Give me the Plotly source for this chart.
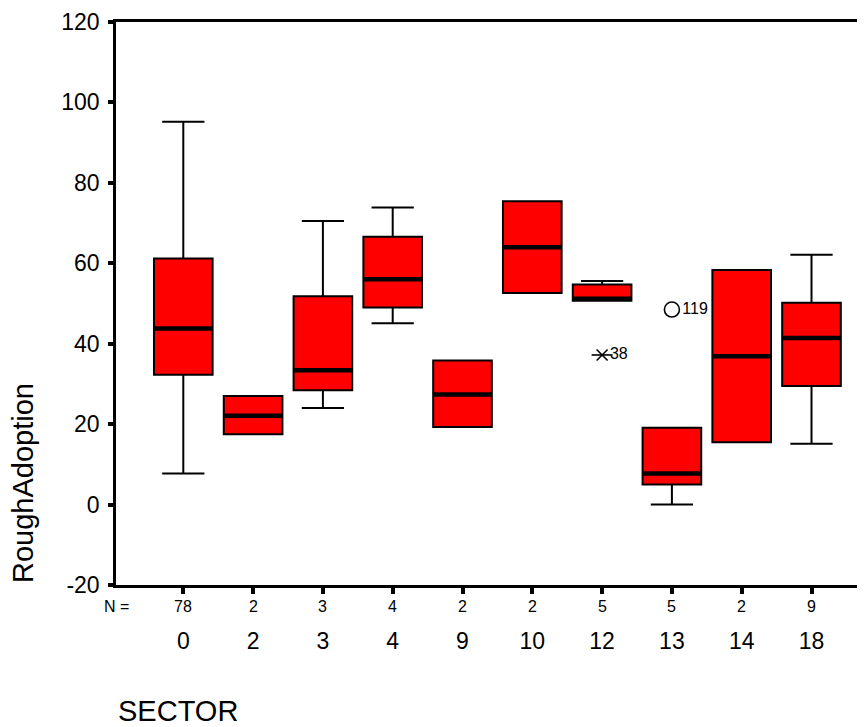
import plotly.graph_objects as go

# ---- data ----
sectors = ["0", "2", "3", "4", "9", "10", "12", "13", "14", "18"]
counts = [78, 2, 3, 4, 2, 2, 5, 5, 2, 9]
lower_whisker = [7.7, 17.5, 24.0, 45.1, 19.3, 52.6, 50.7, 0.0, 15.5, 15.1]
q1 = [32.3, 17.5, 28.4, 49.0, 19.3, 52.6, 50.7, 5.0, 15.5, 29.5]
median = [43.8, 22.1, 33.4, 56.0, 27.4, 64.0, 51.2, 7.7, 36.9, 41.4]
q3 = [61.2, 27.0, 51.8, 66.6, 35.8, 75.4, 54.7, 19.1, 58.3, 50.2]
upper_whisker = [95.2, 27.0, 70.5, 73.9, 35.8, 75.4, 55.6, 19.1, 58.3, 62.1]

outlier_sector = ["12", "13"]
outlier_value = [37.2, 48.5]
outlier_case = ["38", "119"]
outlier_kind = ["extreme", "outlier"]

y_ticks = [-20, 0, 20, 40, 60, 80, 100, 120]
y_tick_labels = ["-20", "0", "20", "40", "60", "80", "100", "120"]

# ---- build figure ----
pos = list(range(len(sectors)))
box_w = 0.84
FONT = "Liberation Sans, Arial, sans-serif"

fig = go.Figure()
fig.add_trace(go.Box(
    x=pos, q1=q1, median=median, q3=q3,
    lowerfence=lower_whisker, upperfence=upper_whisker,
    fillcolor="#FF0000", line=dict(color="black", width=2),
    width=box_w, whiskerwidth=0.72, boxpoints=False,
    showlegend=False, hoverinfo="skip",
))

# thick median bars
mx, my = [], []
half = box_w / 2 - 0.01
for p, m in zip(pos, median):
    mx += [p - half, p + half, None]
    my += [m, m, None]
fig.add_trace(go.Scatter(x=mx, y=my, mode="lines",
                         line=dict(color="black", width=4.5),
                         showlegend=False, hoverinfo="skip"))

# outliers: circles for outliers, SPSS-style star (x plus horizontal bar) for extremes
for s, v, c, k in zip(outlier_sector, outlier_value, outlier_case, outlier_kind):
    xi = sectors.index(s)
    if k == "extreme":
        fig.add_trace(go.Scatter(
            x=[xi], y=[v], mode="markers",
            marker=dict(symbol="line-ew-open", size=15, color="black",
                        line=dict(color="black", width=1.6)),
            showlegend=False, hoverinfo="skip"))
        sym, sz = "x-thin-open", 11
    else:
        sym, sz = "circle-open", 15
    fig.add_trace(go.Scatter(
        x=[xi], y=[v], mode="markers+text",
        marker=dict(symbol=sym, size=sz, color="black",
                    line=dict(color="black", width=1.6)),
        text=[c], textposition="middle right",
        textfont=dict(family=FONT, size=16, color="black"),
        showlegend=False, hoverinfo="skip"))

# page has an 8px body margin; figure sized so it ends at the window edge
OFF = 8
W, H = 865 - OFF, 727 - OFF
ml, mr, mt, mb = 116 - OFF, 1, 19 - OFF, 142
pw = W - ml - mr
ph = H - mt - mb
AX_L, AX_B = 116, 585  # page coords of plot-area left and bottom

annotations = []
annotations.append(dict(x=(102 - AX_L) / pw, y=-(607 - AX_B) / ph, xref="paper", yref="paper",
                        text="N =", showarrow=False, xanchor="left", yanchor="middle",
                        font=dict(family=FONT, size=16, color="black")))
for p, n in zip(pos, counts):
    annotations.append(dict(x=p, y=-(607 - AX_B) / ph, xref="x", yref="paper", text=str(n),
                            showarrow=False, xanchor="center", yanchor="middle",
                            font=dict(family=FONT, size=16, color="black")))
annotations.append(dict(x=(23 - AX_L) / pw, y=0, xref="paper", yref="paper",
                        text="RoughAdoption", showarrow=False, textangle=-90,
                        xanchor="center", yanchor="bottom",
                        font=dict(family=FONT, size=29, color="black")))
annotations.append(dict(x=(116 - AX_L) / pw, y=-(712 - AX_B) / ph, xref="paper",
                        yref="paper", text="SECTOR", showarrow=False,
                        xanchor="left", yanchor="middle",
                        font=dict(family=FONT, size=29, color="black")))

spacing = 69.8
x0 = -(183.3 - AX_L) / spacing
fig.update_layout(
    width=W, height=H,
    margin=dict(l=ml, r=mr, t=mt, b=mb, pad=0),
    plot_bgcolor="white", paper_bgcolor="white",
    font=dict(family=FONT, color="black"),
    annotations=annotations,
    xaxis=dict(range=[x0, x0 + pw / spacing], tickvals=pos, ticktext=sectors,
               showline=True, mirror=True, linecolor="black", linewidth=2.5,
               ticks="outside", ticklen=6, tickwidth=4, tickcolor="black",
               tickfont=dict(family=FONT, size=23, color="black"),
               ticklabelstandoff=28, showgrid=False, zeroline=False),
    yaxis=dict(range=[-20, 120], tickvals=y_ticks, ticktext=y_tick_labels,
               showline=True, linecolor="black", linewidth=2.5,
               ticks="outside", ticklen=5, tickwidth=4, tickcolor="black",
               tickfont=dict(family=FONT, size=23, color="black"),
               ticklabelstandoff=4, ticklabeloverflow="allow",
               showgrid=False, zeroline=False),
)

fig.write_html("out.html")
